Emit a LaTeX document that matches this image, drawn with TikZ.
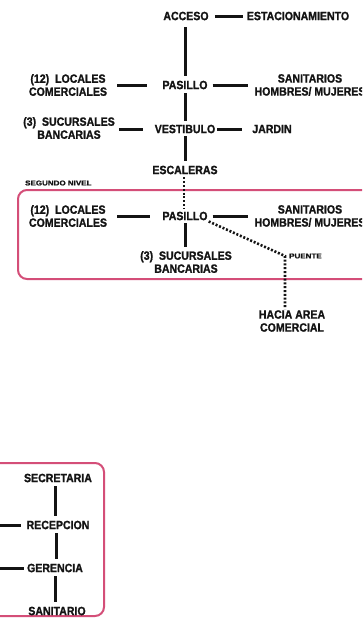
\documentclass[tikz,border=0pt]{standalone}
\usepackage{fontspec}
\usepackage{graphicx}
\setmainfont{Liberation Sans}[FakeStretch=0.88,FakeBold=1.2]
\definecolor{framepink}{RGB}{212,78,120}
\definecolor{inkblack}{RGB}{20,20,20}
\newcommand{\widetiny}[1]{\scalebox{1.3}[1]{#1}}
\begin{document}
\begin{tikzpicture}[x=1pt,y=-1pt,
  lbl/.style={inner sep=1pt,align=center,text=inkblack,
    font=\bfseries\fontsize{12}{13}\selectfont},
  tiny/.style={inner sep=0pt,text=inkblack,font=\bfseries\fontsize{7}{7}\selectfont},
  conn/.style={draw=inkblack,line width=3pt},
  dots/.style={draw=inkblack,line width=2.6pt,dash pattern=on 2pt off 1.8pt},
  frame/.style={draw=framepink,line width=2pt,rounded corners=9pt}]
\clip (0,0) rectangle (362,619);
\fill[white] (0,0) rectangle (362,619);

% ---- ground floor ----
\node[lbl] (acc) at (186,16) {ACCESO};
\node[lbl] (est) at (298,16) {ESTACIONAMIENTO};
\node[lbl] (pas1) at (185,85) {PASILLO};
\node[lbl] (loc1) at (68,85) {(12)~~LOCALES\\COMERCIALES};
\node[lbl] (san1) at (310,85) {SANITARIOS\\HOMBRES/ MUJERES};
\node[lbl] (ves) at (185,129) {VESTIBULO};
\node[lbl] (suc1) at (69,128) {(3)~~SUCURSALES\\BANCARIAS};
\node[lbl] (jar) at (272,129) {JARDIN};
\node[lbl] (esc) at (185,170) {ESCALERAS};

\draw[conn,shorten <=5pt,shorten >=3pt] (acc.east) -- (est.west);
\draw[conn,shorten <=6pt,shorten >=4pt] (acc.south -| pas1) -- (pas1.north);
\draw[conn,shorten <=9pt,shorten >=14pt] (loc1.east |- pas1) -- (pas1.west);
\draw[conn,shorten <=4pt,shorten >=5pt] (pas1.east) -- (pas1.east -| san1.west);
\draw[conn,shorten <=3pt,shorten >=3pt] (pas1.south) -- (ves.north);
\draw[conn,shorten <=3pt,shorten >=11pt] (suc1.east |- ves) -- (ves.west);
\draw[conn,shorten <=1pt,shorten >=9pt] (ves.east) -- (jar.west);
\draw[conn,shorten <=2pt,shorten >=4pt] (ves.south) -- (esc.north);

% ---- second level ----
\draw[frame] (18,190) rectangle (374,279);
\node[tiny,anchor=west] (niv) at (25,183) {\widetiny{SEGUNDO NIVEL}};
\node[lbl] (pas2) at (185,216) {PASILLO};
\node[lbl] (loc2) at (68,216) {(12)~~LOCALES\\COMERCIALES};
\node[lbl] (san2) at (310,216) {SANITARIOS\\HOMBRES/ MUJERES};
\node[lbl] (suc2) at (186,262) {(3)~~SUCURSALES\\BANCARIAS};
\coordinate (pte) at (285,256);
\node[tiny,anchor=west] (ptel) at (289,256) {\widetiny{PUENTE}};
\node[lbl] (hac) at (292,321) {HACIA AREA\\COMERCIAL};

\draw[dots,shorten <=2pt,shorten >=2pt] (esc.south -| 184,0) -- (pas2.north -| 184,0);
\draw[conn,shorten <=9pt,shorten >=11pt] (loc2.east |- pas2) -- (pas2.west);
\draw[conn,shorten <=4pt,shorten >=5pt] (pas2.east) -- (pas2.east -| san2.west);
\draw[conn,shorten <=2pt,shorten >=3pt] (pas2.south) -- (suc2.north -| pas2);
\draw[dots] (pas2.south east) -- (pte) -- (hac.north -| pte);

% ---- administration ----
\draw[frame] (-12,463) rectangle (104,616);
\node[lbl] (sec) at (58,478) {SECRETARIA};
\node[lbl] (rec) at (58,525) {RECEPCION};
\node[lbl] (ger) at (55,568) {GERENCIA};
\node[lbl] (sani) at (57,611) {SANITARIO};
\coordinate (recin) at (-6,525);
\coordinate (gerin) at (-6,568);

\draw[conn,shorten <=3pt,shorten >=4pt] (sec.south -| 55,0) -- (rec.north -| 55,0);
\draw[conn,shorten <=3pt,shorten >=4pt] (rec.south -| 56,0) -- (ger.north -| 56,0);
\draw[conn,shorten <=3pt,shorten >=4pt] (ger.south -| 55,0) -- (sani.north -| 55,0);
\draw[conn,shorten >=4pt] (recin) -- (rec.west);
\draw[conn,shorten >=2pt] (gerin) -- (ger.west);
\end{tikzpicture}
\end{document}
